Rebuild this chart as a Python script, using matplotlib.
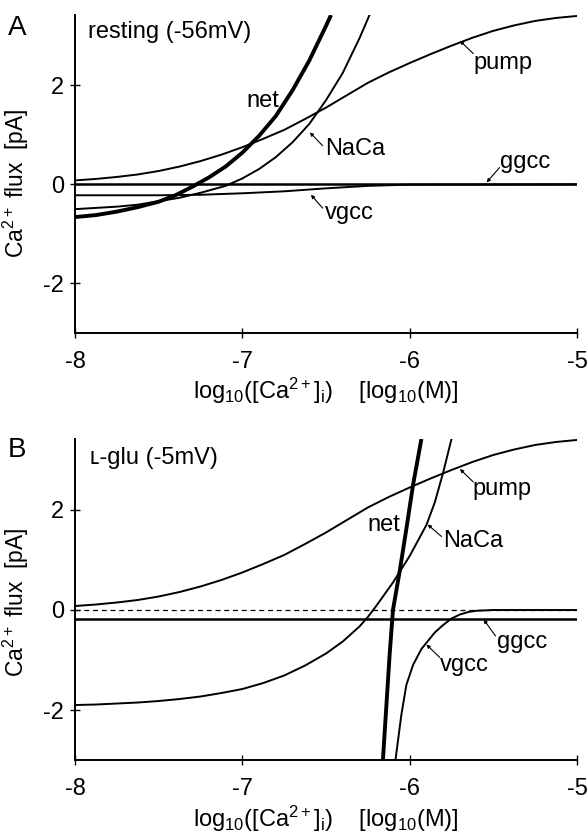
import matplotlib
matplotlib.use('Agg')
import matplotlib.pyplot as plt

plt.rcParams['font.family'] = ['Liberation Sans', 'DejaVu Sans']
plt.rcParams['mathtext.fontset'] = 'custom'
plt.rcParams['mathtext.rm'] = 'Liberation Sans'
plt.rcParams['mathtext.it'] = 'Liberation Sans'
plt.rcParams['axes.unicode_minus'] = False

# pump flux (same in both panels)
pump_x = [-8, -7.875, -7.75, -7.625, -7.5, -7.375, -7.25, -7.125, -7, -6.875, -6.75, -6.625,
          -6.5, -6.375, -6.25, -6.125, -6, -5.875, -5.75, -5.625, -5.5, -5.375, -5.25, -5.125, -5]
pump_y = [0.08, 0.11, 0.15, 0.2, 0.27, 0.36, 0.47, 0.6, 0.75, 0.92, 1.1, 1.32,
          1.55, 1.8, 2.05, 2.26, 2.45, 2.63, 2.8, 2.96, 3.1, 3.21, 3.3, 3.36, 3.4]

# panel A, resting
nacaA_x = [-8, -7.75, -7.625, -7.5, -7.375, -7.25, -7.1, -7.0, -6.9, -6.8, -6.7, -6.6, -6.5, -6.4, -6.3, -6.24]
nacaA_y = [-0.50, -0.45, -0.41, -0.34, -0.27, -0.17, -0.03, 0.12, 0.31, 0.55, 0.85, 1.22, 1.7, 2.25, 2.95, 3.42]
vgccA_x = [-8, -7.5, -7.25, -7, -6.75, -6.5, -6.25, -6, -5]
vgccA_y = [-0.22, -0.22, -0.21, -0.18, -0.14, -0.08, -0.03, -0.005, 0]
ggccA_x = [-8, -5]
ggccA_y = [0.0, 0.0]
netA_x = [-8, -7.875, -7.75, -7.625, -7.5, -7.4, -7.3, -7.2, -7.1, -7.0, -6.9, -6.8, -6.7, -6.6, -6.5, -6.47]
netA_y = [-0.66, -0.62, -0.55, -0.46, -0.35, -0.22, -0.05, 0.14, 0.36, 0.64, 0.98, 1.38, 1.9, 2.5, 3.2, 3.42]

# panel B, L-glu
nacaB_x = [-8, -7.875, -7.75, -7.625, -7.5, -7.375, -7.25, -7.125, -7.0, -6.875, -6.75, -6.625,
           -6.5, -6.4, -6.3, -6.25, -6.2, -6.1, -6.0, -5.9, -5.85, -5.8, -5.75]
nacaB_y = [-1.90, -1.89, -1.87, -1.85, -1.82, -1.78, -1.73, -1.66, -1.58, -1.46, -1.31, -1.11,
           -0.87, -0.63, -0.33, -0.14, 0.08, 0.55, 1.08, 1.7, 2.15, 2.75, 3.42]
vgccB_x = [-6.085, -6.05, -6.02, -5.98, -5.93, -5.85, -5.8, -5.75, -5.7, -5.65, -5.6, -5.5, -5.0]
vgccB_y = [-3.0, -2.1, -1.5, -1.1, -0.78, -0.45, -0.3, -0.17, -0.09, -0.04, -0.015, 0.0, 0.0]
ggccB_x = [-8, -5]
ggccB_y = [-0.17, -0.17]
netB_x = [-6.16, -6.14, -6.12, -6.10, -6.06, -6.02, -5.98, -5.93]
netB_y = [-3.0, -1.95, -0.9, 0.0, 0.77, 1.62, 2.5, 3.42]

xticks = [-8, -7, -6, -5]
yticks = [-2, 0, 2]

FS = 17
fig = plt.figure(figsize=(5.87, 8.32), dpi=100)
axA = fig.add_axes([0.1278, 0.5998, 0.8552, 0.3822])
axB = fig.add_axes([0.1278, 0.0865, 0.8552, 0.3859])


def style(ax, ly):
    ax.set_xlim(-8, -5)
    ax.set_ylim(-3, 3.42)
    for s in ['top', 'right']:
        ax.spines[s].set_visible(False)
    for s in ['left', 'bottom']:
        ax.spines[s].set_linewidth(1.4)
    ax.set_xticks(xticks)
    ax.set_yticks(yticks)
    ax.set_xticklabels([str(t) for t in xticks])
    ax.set_yticklabels([str(t) for t in yticks])
    ax.tick_params(direction='inout', length=7, width=1, labelsize=FS)
    ax.tick_params(axis='x', pad=9.5)
    ax.tick_params(axis='y', pad=4.5)
    ax.set_ylabel('Ca$^{2+}$ flux  [pA]', fontsize=16.5)
    ax.yaxis.set_label_coords(-0.087, ly)
    ax.set_xlabel('log$_{10}$([Ca$^{2+}$]$_\\mathrm{i}$)    [log$_{10}$(M)]', fontsize=FS)
    ax.xaxis.set_label_coords(0.5, -0.135)


def leader(ax, p, q):
    ax.annotate('', xy=p, xytext=q,
                arrowprops=dict(arrowstyle='-|>', lw=0.8, color='k', mutation_scale=5,
                                shrinkA=0, shrinkB=0))


# ---- A
ax = axA
style(ax, 0.47)
ax.plot(ggccA_x, ggccA_y, color='k', lw=1.8)
ax.plot(pump_x, pump_y, color='k', lw=1.4)
ax.plot(nacaA_x, nacaA_y, color='k', lw=1.4)
ax.plot(vgccA_x, vgccA_y, color='k', lw=1.4)
ax.plot(netA_x, netA_y, color='k', lw=2.8, solid_capstyle='butt')
ax.text(-7.92, 3.08, 'resting (-56mV)', fontsize=FS, va='center')
ax.text(-6.88, 1.69, 'net', fontsize=FS, ha='center', va='center')
ax.text(-5.62, 2.45, 'pump', fontsize=FS, va='center')
ax.text(-6.507, 0.72, 'NaCa', fontsize=FS, va='center')
ax.text(-5.463, 0.45, 'ggcc', fontsize=FS, va='center')
ax.text(-6.507, -0.58, 'vgcc', fontsize=FS, va='center')
leader(ax, (-5.70, 2.90), (-5.62, 2.64))
leader(ax, (-6.597, 1.05), (-6.52, 0.78))
leader(ax, (-5.54, 0.04), (-5.463, 0.34))
leader(ax, (-6.59, -0.21), (-6.52, -0.48))

# ---- B
ax = axB
style(ax, 0.49)
ax.axhline(0, color='k', lw=0.9, ls=(0, (4, 3)))
ax.plot(ggccB_x, ggccB_y, color='k', lw=1.8)
ax.plot(pump_x, pump_y, color='k', lw=1.4)
ax.plot(nacaB_x, nacaB_y, color='k', lw=1.4)
ax.plot(vgccB_x, vgccB_y, color='k', lw=1.4)
ax.plot(netB_x, netB_y, color='k', lw=2.8, solid_capstyle='butt')
ax.text(-7.91, 3.04, '\u029f-glu (-5mV)', fontsize=FS, va='center')
ax.text(-6.155, 1.69, 'net', fontsize=FS, ha='center', va='center')
ax.text(-5.624, 2.42, 'pump', fontsize=FS, va='center')
ax.text(-5.80, 1.37, 'NaCa', fontsize=FS, va='center')
ax.text(-5.48, -0.63, 'ggcc', fontsize=FS, va='center')
ax.text(-5.82, -1.09, 'vgcc', fontsize=FS, va='center')
leader(ax, (-5.70, 2.82), (-5.62, 2.56))
leader(ax, (-5.893, 1.71), (-5.81, 1.47))
leader(ax, (-5.558, -0.19), (-5.487, -0.52))
leader(ax, (-5.90, -0.69), (-5.82, -0.95))

fig.text(0.014, 0.982, 'A', fontsize=20, va='top')
fig.text(0.014, 0.475, 'B', fontsize=20, va='top')

fig.savefig('out.png', dpi=100)
